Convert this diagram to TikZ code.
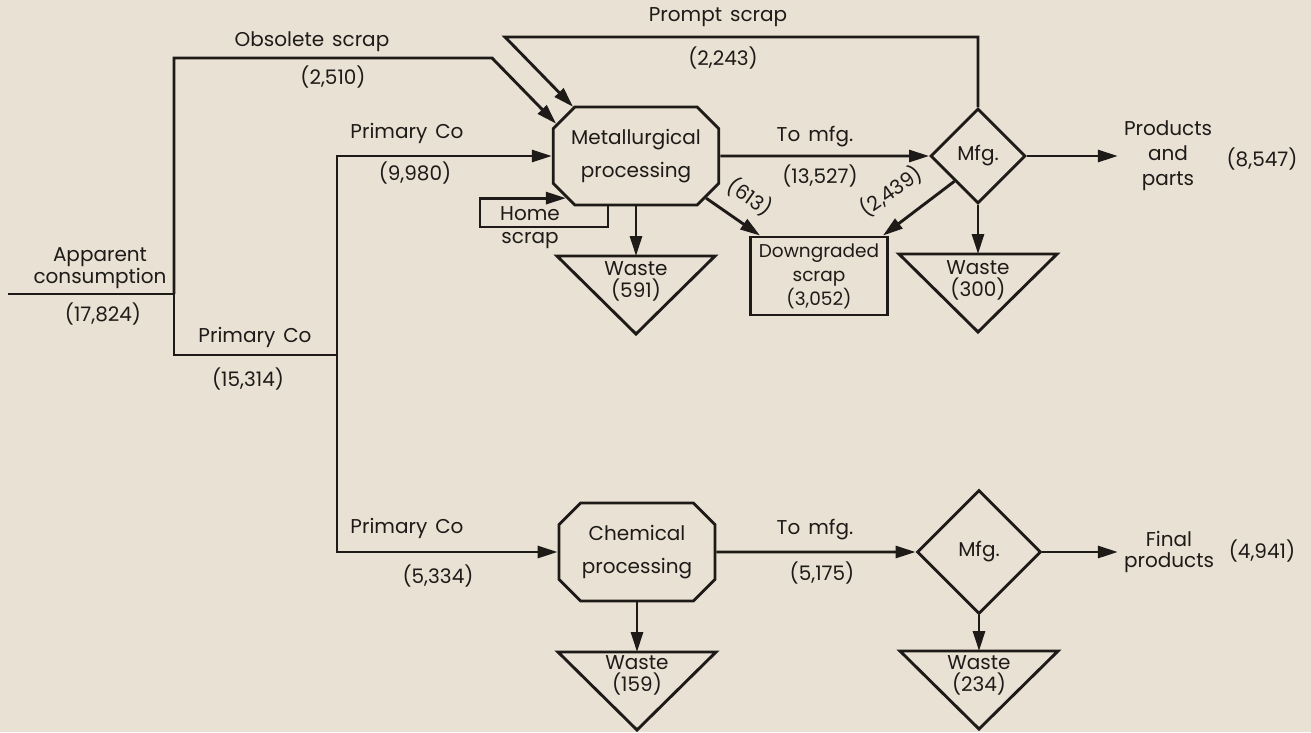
\documentclass[tikz,border=0pt]{standalone}
\usepackage{fontspec}
\setmainfont{Poppins}[WordSpace=1.5]
\usepackage{xcolor}
\definecolor{paper}{RGB}{232,225,212}
\definecolor{ink}{RGB}{30,26,24}
\usetikzlibrary{arrows.meta, positioning, calc, shapes.geometric, shapes.misc}

\begin{document}
\begin{tikzpicture}[
		x=1pt, y=-1pt,
		every node/.style={text=ink, font=\fontsize{20}{22}\selectfont},
		wire/.style={draw=ink, line width=2.9pt},
		fl/.style={wire, -{Triangle[length=20pt, width=12pt]}},
		proc/.style={draw=ink, line width=2.9pt, chamfered rectangle, chamfered rectangle xsep=18pt,
			minimum width=156pt, minimum height=98pt, inner sep=0pt, align=center, font=\fontsize{20}{33}\selectfont},
		mfg/.style={draw=ink, line width=2.9pt, diamond, aspect=1, inner sep=0pt},
		dbox/.style={draw=ink, line width=2.9pt, minimum width=137pt, minimum height=78pt, align=center, inner sep=0pt, font=\fontsize{18.5}{24}\selectfont},
		lbl/.style={align=center, inner sep=6pt}
	]
		\fill[paper] (0,0) rectangle (1311,732);
		\useasboundingbox (0,0) rectangle (1311,732);

		% ===== Processing and manufacturing blocks =====
		\node[proc] (met) at (636,156) {Metallurgical\\processing};
		\node[proc] (chem) at (637,552) {Chemical\\processing};
		\node[mfg, minimum size=95pt] (mfgA) at (978,156) {Mfg.};
		\node[mfg, minimum size=124pt] (mfgB) at (979,552) {Mfg.};
		\node[dbox] (dwn) at (819,276) {Downgraded\\scrap\\(3,052)};

		% ===== Waste triangles =====
		\coordinate (wMt) at (636,256);
		\coordinate (wAt) at (978,254);
		\coordinate (wCt) at (637,652);
		\coordinate (wBt) at (979,651);
		\foreach \t in {wMt, wAt, wCt, wBt}
			\draw[wire, line join=miter] ($(\t)+(-79,0)$) -- ($(\t)+(79,0)$) -- ($(\t)+(0,78)$) -- cycle;
		\node[lbl, inner sep=0pt] (wML) at (636,281) {Waste\\(591)};
		\node[lbl, inner sep=0pt] (wAL) at (978,280) {Waste\\(300)};
		\node[lbl, inner sep=0pt] (wCL) at (637,675) {Waste\\(159)};
		\node[lbl, inner sep=0pt] (wBL) at (979,675) {Waste\\(234)};

		% ===== Input side =====
		\coordinate (appIn) at (8,294);
		\coordinate (j1) at (174,294);
		\coordinate (j2) at (337,355);
		\coordinate (obs) at (492,58);
		\node[lbl, font=\fontsize{20}{19}\selectfont] (appL) at (100,268) {Apparent\\consumption};
		\node[lbl] (appV) at (103,314) {(17,824)};
		\draw[wire] (appIn) -- (j1);
		\draw[wire] (j1) |- (j2);
		\node[lbl] (prAL) at (255,337) {Primary Co};
		\node[lbl] (prAV) at (248,379) {(15,314)};

		% Obsolete scrap
		\draw[fl] (j1) |- (obs) -- (met.158);
		\node[lbl] (obsL) at (312,42) {Obsolete scrap};
		\node[lbl] (obsV) at (333,77) {(2,510)};

		% Primary Co branches
		\draw[fl] (j2) |- (met.west);
		\node[lbl] (prBL) at (407,133) {Primary Co};
		\node[lbl] (prBV) at (415,173) {(9,980)};
		\draw[fl] (j2) |- (chem.west);
		\node[lbl] (prCL) at (407,528) {Primary Co};
		\node[lbl] (prCV) at (438,576) {(5,334)};

		% ===== Metallurgical route =====
		\coordinate (pr) at (505,37);
		\draw[fl] (mfgA.north) |- (pr) -- (met.142);
		\node[lbl] (prmL) at (718,17) {Prompt scrap};
		\node[lbl] (prmV) at (723,58) {(2,243)};

		\coordinate (hs) at (480,227);
		\draw[fl] ([xshift=-28pt]met.south) |- (hs) |- (met.211);
		\node[lbl, inner sep=0pt, font=\fontsize{20}{23}\selectfont] (homeL) at (530,228) {Home\\scrap};

		\draw[fl] (met) -- (mfgA);
		\node[lbl] (tmAL) at (815,137) {To mfg.};
		\node[lbl] (tmAV) at (820,176) {(13,527)};

		\draw[fl] (met.-31) -- ([xshift=11pt]dwn.north west);
		\node[lbl, inner sep=0pt, rotate=-35] (l613) at (750,197) {(613)};
		\draw[fl] (mfgA.227) -- ([xshift=-6pt]dwn.north east);
		\node[lbl, inner sep=0pt, rotate=35] (l2439) at (891,191) {(2,439)};

		\draw[fl] (met.south) -- (wMt);
		\draw[fl] (mfgA.south) -- (wAt);

		\node[lbl, font=\fontsize{20}{25}\selectfont] (prod) at (1168,156) {Products\\and\\parts};
		\node[lbl] (prodV) at (1262,159) {(8,547)};
		\draw[fl] (mfgA) -- (prod);

		% ===== Chemical route =====
		\draw[fl] (chem) -- (mfgB);
		\node[lbl] (tmBL) at (815,530) {To mfg.};
		\node[lbl] (tmBV) at (822,573) {(5,175)};
		\draw[fl] (chem.south) -- (wCt);
		\draw[fl] (mfgB.south) -- (wBt);

		\node[lbl, font=\fontsize{20}{21}\selectfont] (fin) at (1169,552) {Final\\products};
		\node[lbl] (finV) at (1262,551) {(4,941)};
		\draw[fl] (mfgB) -- (fin);
	\end{tikzpicture}
\end{document}
